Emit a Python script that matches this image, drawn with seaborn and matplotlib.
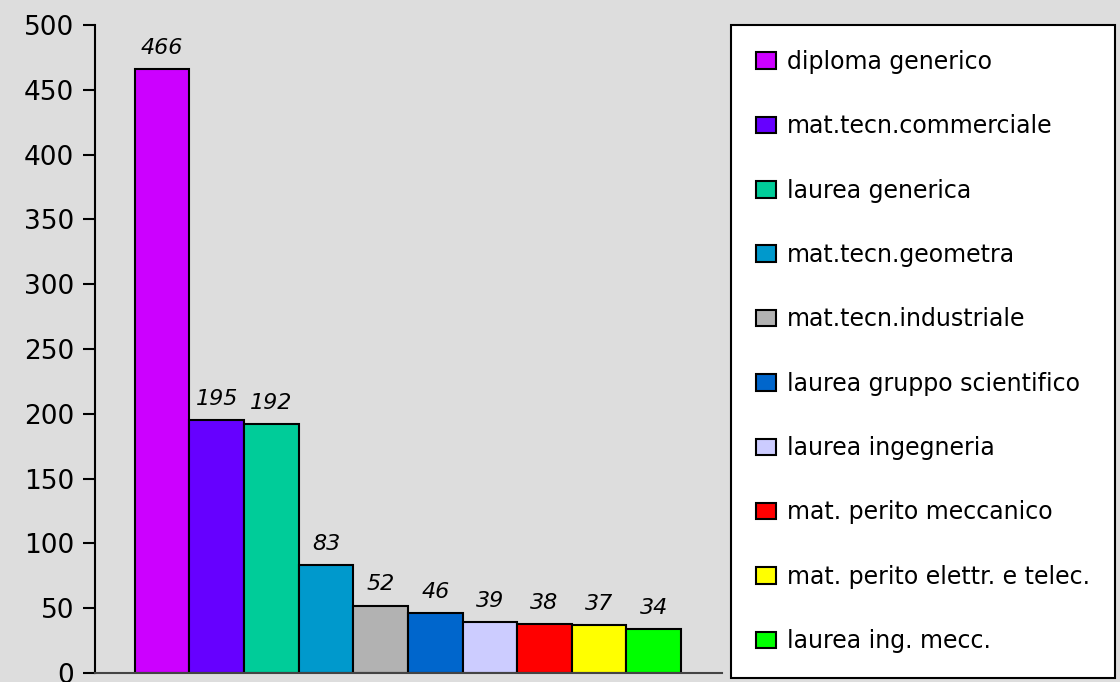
import numpy as np
import pandas as pd
import seaborn as sns
import matplotlib.pyplot as plt

# titoli di studio
categorie = ['diploma generico', 'mat.tecn.commerciale', 'laurea generica',
             'mat.tecn.geometra', 'mat.tecn.industriale', 'laurea gruppo scientifico',
             'laurea ingegneria', 'mat. perito meccanico',
             'mat. perito elettr. e telec.', 'laurea ing. mecc.']
valori = [466, 195, 192, 83, 52, 46, 39, 38, 37, 34]
colori = ['#CC00FF', '#6600FF', '#00CC99', '#0099CC', '#B2B2B2',
          '#0066CC', '#CCCCFF', '#FF0000', '#FFFF00', '#00FF00']
yticks = [0, 50, 100, 150, 200, 250, 300, 350, 400, 450, 500]

df = pd.DataFrame({'titolo': categorie, 'n': valori})

sns.set_style('white')
plt.rcParams['font.family'] = ['DejaVu Sans']
plt.rcParams['text.color'] = 'black'

fig = plt.figure(figsize=(11.2, 6.82), dpi=100)
fig.patch.set_facecolor('#DDDDDD')
ax = fig.add_axes([95 / 1120, 9 / 682, 627 / 1120, 648 / 682])
ax.set_facecolor('#DDDDDD')

sns.barplot(data=df, x='titolo', y='n', hue='titolo', palette=colori,
            saturation=1, width=1.0, edgecolor='black', linewidth=1.5,
            legend=False, ax=ax)

for c in ax.containers:
    ax.bar_label(c, fontstyle='italic', fontsize=16, padding=8, color='black')

ax.set_xlim(-1.23, 10.25)
ax.set_ylim(0, 500)
ax.set_yticks(yticks)
ax.tick_params(axis='y', labelsize=19, length=9, width=1.5, color='black',
               labelcolor='black', left=True, pad=6)
ax.set_xticks([])
ax.set_xlabel('')
ax.set_ylabel('')
for s in ['top', 'right']:
    ax.spines[s].set_visible(False)
ax.spines['left'].set_color('black')
ax.spines['left'].set_linewidth(1.5)
ax.spines['bottom'].set_color('#444444')
ax.spines['bottom'].set_linewidth(1.5)

leg = fig.legend(ax.containers, categorie, loc='upper left',
                 bbox_to_anchor=(731 / 1120, 1 - 25 / 682), borderaxespad=0,
                 fontsize=17, frameon=True, fancybox=False, framealpha=1,
                 edgecolor='black', facecolor='white',
                 labelspacing=1.71, borderpad=1.05, handlelength=0.85,
                 handleheight=0.7, handletextpad=0.47)
leg.get_frame().set_linewidth(1.5)
for t in leg.get_texts():
    t.set_color('black')

fig.savefig('out.png', dpi=100, facecolor=fig.get_facecolor())
